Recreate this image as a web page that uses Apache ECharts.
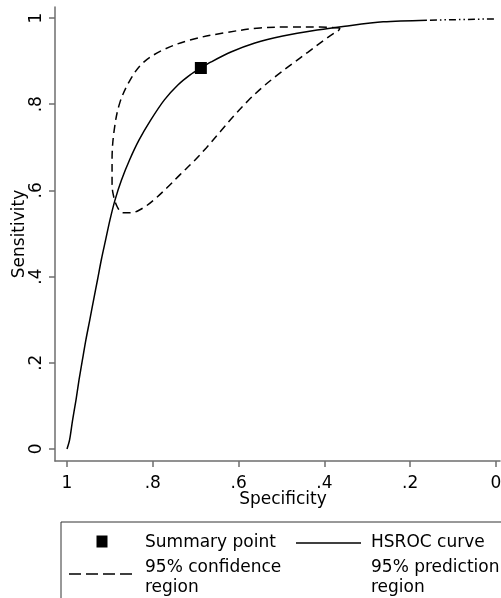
<!DOCTYPE html>
<html>
<head>
<meta charset="utf-8">
<title>HSROC</title>
<script src="https://cdn.jsdelivr.net/npm/echarts@6/dist/echarts.min.js"></script>
<style>
body { margin: 0; background: #fff; }
#main { width: 501px; height: 598px; }
</style>
</head>
<body>
<div id="main"></div>
<script type="text/javascript">
// tick values shared by both axes
var tickValues = [0, 0.2, 0.4, 0.6, 0.8, 1];

// summary point
var summarySpec = [0.688];
var summarySens = [0.884];

// HSROC curve
var hsrocSpec = [1.000, 0.994, 0.987, 0.979, 0.972, 0.964, 0.956, 0.947, 0.938, 0.929, 0.920, 0.910, 0.900, 0.888, 0.873, 0.854, 0.832, 0.805, 0.773, 0.741, 0.713, 0.688, 0.664, 0.618, 0.562, 0.497, 0.417, 0.352, 0.263, 0.161];
var hsrocSens = [0.000, 0.021, 0.067, 0.114, 0.160, 0.207, 0.253, 0.299, 0.346, 0.392, 0.439, 0.485, 0.531, 0.578, 0.624, 0.671, 0.717, 0.763, 0.810, 0.845, 0.868, 0.884, 0.898, 0.921, 0.942, 0.958, 0.972, 0.981, 0.991, 0.995];

// 95% confidence region outline (closed)
var ciSpec = [0.364, 0.410, 0.480, 0.550, 0.636, 0.713, 0.776, 0.823, 0.853, 0.877, 0.890, 0.895, 0.895, 0.893, 0.883, 0.870, 0.851, 0.823, 0.795, 0.767, 0.737, 0.706, 0.676, 0.643, 0.611, 0.578, 0.546, 0.513, 0.476, 0.438, 0.403, 0.380, 0.366, 0.364];
var ciSens = [0.977, 0.979, 0.979, 0.977, 0.965, 0.949, 0.926, 0.896, 0.856, 0.803, 0.740, 0.671, 0.624, 0.594, 0.562, 0.548, 0.548, 0.559, 0.580, 0.606, 0.636, 0.666, 0.698, 0.736, 0.773, 0.808, 0.838, 0.865, 0.893, 0.921, 0.947, 0.963, 0.972, 0.977];

// 95% prediction region (only the visible part near the top right)
var predSpec = [0.154, 0.100, 0.050, 0.000];
var predSens = [0.995, 0.996, 0.997, 0.998];

function pairs(xs, ys) {
	var out = [];
	for (var i = 0; i < xs.length; i++) out.push([xs[i], ys[i]]);
	return out;
}

function fmt(v) {
	return String(Math.round(v * 10) / 10).replace(/^0\./, '.');
}

var font = 'DejaVu Sans';
var axisGrey = '#6e6e6e';

var myChart = echarts.init(document.getElementById('main'));

var option = {
	animation: false,
	backgroundColor: '#fff',
	grid: { left: 55, right: 1, top: 7, bottom: 137, containLabel: false, outerBoundsMode: 'none' },
	xAxis: {
		type: 'value',
		inverse: true,
		min: -0.0093,
		max: 1.028,
		name: 'Specificity',
		nameLocation: 'middle',
		nameGap: 30,
		nameMoveOverlap: false,
		nameTextStyle: { fontFamily: font, fontSize: 17, color: '#000', padding: [0, 0, 0, 11] },
		axisLine: { show: true, onZero: false, lineStyle: { color: axisGrey, width: 1.5 } },
		axisTick: { show: true, length: 6, customValues: tickValues, lineStyle: { color: axisGrey, width: 1.5 } },
		axisLabel: { customValues: tickValues, margin: 14, fontFamily: font, fontSize: 17, color: '#000', formatter: fmt, hideOverlap: false },
		splitLine: { show: false }
	},
	yAxis: {
		type: 'value',
		position: 'left',
		min: -0.028,
		max: 1.0255,
		name: 'Sensitivity',
		nameLocation: 'middle',
		nameGap: 27,
		nameMoveOverlap: false,
		nameTextStyle: { fontFamily: font, fontSize: 17, color: '#000' },
		axisLine: { show: true, onZero: false, lineStyle: { color: axisGrey, width: 1.5 } },
		axisTick: { show: true, length: 6, customValues: tickValues, lineStyle: { color: axisGrey, width: 1.5 } },
		axisLabel: { customValues: tickValues, rotate: 90, margin: 10, fontFamily: font, fontSize: 17, color: '#000', formatter: fmt, hideOverlap: false },
		splitLine: { show: false }
	},
	series: [
		{
			name: '95% confidence region',
			type: 'line',
			data: pairs(ciSpec, ciSens),
			showSymbol: false,
			smooth: 0.35,
			lineStyle: { color: '#000', width: 1.5, type: [8, 5] },
			z: 2
		},
		{
			name: '95% prediction region',
			type: 'line',
			data: pairs(predSpec, predSens),
			showSymbol: false,
			lineStyle: { color: '#000', width: 1.5, type: [7, 3, 1.5, 3, 1.5, 3] },
			z: 2
		},
		{
			name: 'HSROC curve',
			type: 'line',
			data: pairs(hsrocSpec, hsrocSens),
			showSymbol: false,
			smooth: 0.3,
			lineStyle: { color: '#000', width: 1.5 },
			z: 3
		},
		{
			name: 'Summary point',
			type: 'scatter',
			data: pairs(summarySpec, summarySens),
			symbol: 'rect',
			symbolSize: 12,
			itemStyle: { color: '#000', opacity: 1 },
			z: 4
		}
	],
	graphic: [
		{ type: 'rect', shape: { x: 61, y: 522, width: 460, height: 100 }, style: { fill: 'none', stroke: '#333', lineWidth: 1 } },
		{ type: 'rect', shape: { x: 96.5, y: 535.5, width: 11, height: 12 }, style: { fill: '#000' } },
		{ type: 'text', x: 145, y: 543, style: { text: 'Summary point', font: '17px "DejaVu Sans"', fill: '#000', verticalAlign: 'middle' } },
		{ type: 'line', shape: { x1: 296, y1: 543, x2: 361, y2: 543 }, style: { stroke: '#000', lineWidth: 1.5 } },
		{ type: 'text', x: 371, y: 543, style: { text: 'HSROC curve', font: '17px "DejaVu Sans"', fill: '#000', verticalAlign: 'middle' } },
		{ type: 'line', shape: { x1: 69, y1: 574, x2: 137, y2: 574 }, style: { stroke: '#000', lineWidth: 1.5, lineDash: [12, 5] } },
		{ type: 'text', x: 145, y: 578, style: { text: '95% confidence\nregion', font: '17px "DejaVu Sans"', fill: '#000', verticalAlign: 'middle', lineHeight: 20 } },
		{ type: 'text', x: 371, y: 578, style: { text: '95% prediction\nregion', font: '17px "DejaVu Sans"', fill: '#000', verticalAlign: 'middle', lineHeight: 20 } }
	]
};

myChart.setOption(option);
</script>
</body>
</html>
